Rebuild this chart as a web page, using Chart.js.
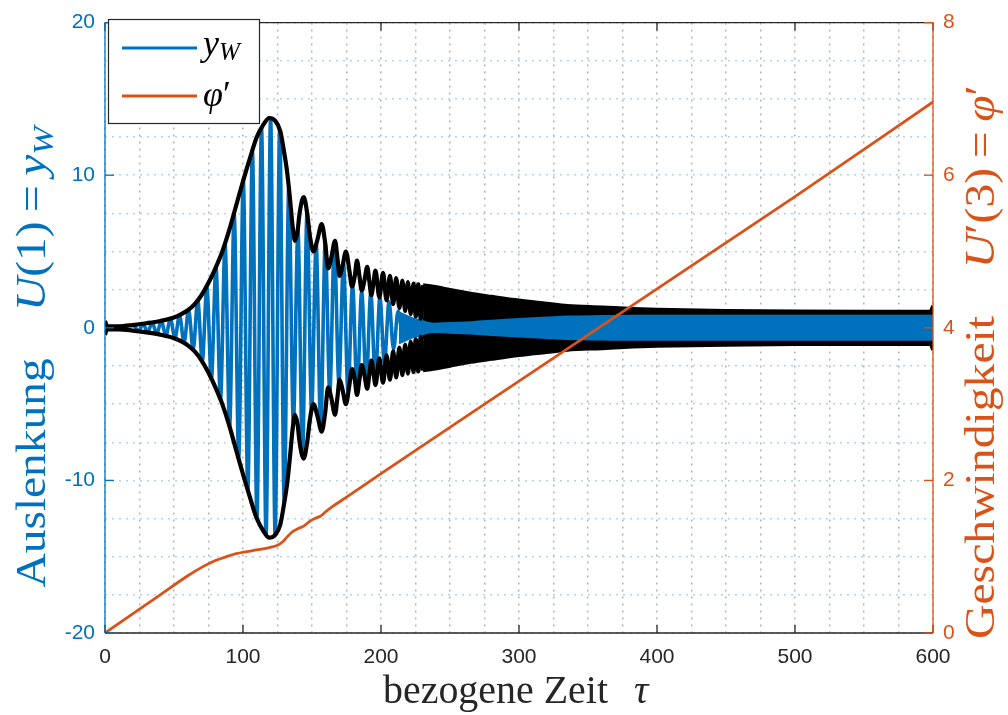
<!DOCTYPE html>
<html>
<head>
<meta charset="utf-8">
<script src="https://cdn.jsdelivr.net/npm/chart.js@4.4.1/dist/chart.umd.min.js"></script>
<style>
  html, body { margin: 0; padding: 0; background: #fff; }
  #wrap { width: 1008px; height: 715px; }
</style>
</head>
<body>
<div id="wrap"><canvas id="chart" width="1008" height="715"></canvas></div>
<script>
// right axis: phi' over tau
const phiTau = [0, 20, 40, 60, 70, 80, 88, 95, 107, 119, 125, 129, 132, 136, 140, 144, 148, 152, 156, 160, 165, 175, 200, 300, 400, 500, 600];
const phiVal = [0, 0.25, 0.50, 0.75, 0.86, 0.95, 1.00, 1.04, 1.08, 1.12, 1.15, 1.20, 1.26, 1.33, 1.37, 1.40, 1.46, 1.50, 1.53, 1.59, 1.66, 1.78, 2.09, 3.30, 4.51, 5.72, 6.96];

// black envelope, resolved part (upper side, lower side is mirrored)
const envTau = [0, 1.5, 10, 20, 30, 40, 50, 55, 60, 65, 70, 75, 80, 85, 90, 95, 100, 105, 110, 115, 119, 123, 127, 130, 132, 134, 136, 137.7, 139.5, 141, 144, 146.5, 148.5, 151, 154, 157, 159.5, 161.7, 164, 166.7, 168.5, 170, 172, 174.6, 177, 179, 181, 182.6, 184.5, 186, 188, 190, 191.5, 193, 194.5, 196, 198.8, 201.5, 204, 206.5, 208.8, 211, 213.3, 215.5, 217.5, 219.5, 221.5, 223.5, 225.2, 227, 228.8, 230.5];
const envUpper = [0.45, 0.1, 0.1, 0.18, 0.3, 0.45, 0.68, 0.88, 1.15, 1.55, 2.15, 2.95, 3.9, 5.0, 6.4, 8.0, 9.6, 11.1, 12.5, 13.35, 13.75, 13.6, 12.9, 11.4, 10.2, 8.5, 6.6, 5.7, 6.3, 7.5, 8.57, 7.5, 6.0, 5.0, 5.8, 6.8, 5.6, 3.9, 4.6, 5.7, 4.5, 3.4, 4.0, 5.0, 3.8, 2.7, 3.4, 4.4, 3.3, 2.45, 3.1, 4.0, 3.1, 2.15, 2.9, 3.75, 2.0, 3.6, 1.8, 3.4, 1.55, 3.25, 1.3, 3.1, 1.1, 3.0, 0.9, 2.9, 0.75, 2.85, 0.6, 2.8];

// black envelope, dense part drawn as a band (outer / inner edge)
const bandTau = [230.5, 238, 250, 265, 280, 300, 320, 335, 360, 383, 400, 450, 500, 550, 598, 600];
const bandOuter = [2.8, 2.7, 2.5, 2.25, 2.05, 1.8, 1.6, 1.45, 1.35, 1.25, 1.2, 1.12, 1.08, 1.07, 1.07, 1.45];
const bandInner = [0.6, 0.45, 0.5, 0.55, 0.65, 0.75, 0.85, 0.92, 0.95, 0.97, 0.97, 0.97, 0.97, 0.97, 0.97, 0.97];

// y_W extremes where the single oscillations can still be seen
const yTau = [21, 24.3, 27.6, 30.9, 34.2, 37.5, 40.8, 44.1, 47.4, 50.7, 54, 57.3, 60.6, 63.9, 67.2, 70.5, 73.8, 77.1, 80.4, 83.7, 87, 90.3, 93.6, 96.9, 100.2, 103.5, 106.8, 110.1, 113.4, 116.7, 120, 123.3, 126.6, 129.9, 133.2, 136.5, 139.8, 143.1, 146.4, 149.7, 153, 156.3, 159.6, 162.9, 166.2, 169.5, 172.8, 176.1, 179.4, 182.7, 186, 189.3, 192.6, 195.9, 199.2, 202.5, 205.8, 209.1, 212.4, 215.7];
const yW = [0.18, -0.21, 0.25, -0.3, 0.35, -0.41, 0.46, -0.52, 0.6, -0.68, 0.82, -0.98, 1.18, -1.45, 1.8, -2.2, 2.7, -3.35, 4.0, -4.7, 5.5, -6.45, 7.5, -8.5, 9.7, -10.7, 11.6, -12.5, 13.15, -13.55, 13.72, -13.55, 13.0, -11.45, 9.2, -6.2, 6.4, -8.4, 7.5, -5.4, 5.5, -6.6, 5.5, -4.2, 5.5, -3.6, 4.3, -4.2, 2.8, -4.3, 2.4, -3.7, 2.3, -3.5, 2.0, -2.3, 1.7, -1.4, 1.1, -0.9];

// y_W dense part (half width of the solid blue band)
const blueTau = [213, 225, 240, 250, 265, 280, 300, 320, 340, 600];
const blueHalf = [1.0, 0.55, 0.4, 0.45, 0.52, 0.6, 0.7, 0.78, 0.8, 0.8];

const xTicks = [0, 100, 200, 300, 400, 500, 600];
const yTicks = [-20, -10, 0, 10, 20];
const y2Ticks = [0, 2, 4, 6, 8];

const BLUE = '#0072BD';
const ORANGE = '#D95319';
const DARK = '#262626';
const SERIF = '"Liberation Serif", "Times New Roman", serif';

const pts = (xs, ys, sign = 1) => xs.map((x, i) => ({ x, y: sign * ys[i] }));

function lineSet(data, color, width, extra) {
  return Object.assign({
    data,
    borderColor: color,
    borderWidth: width,
    pointRadius: 0,
    fill: false,
    cubicInterpolationMode: 'monotone',
    yAxisID: 'y'
  }, extra || {});
}

const datasets = [
  lineSet(pts(phiTau, phiVal), ORANGE, 2.8, { yAxisID: 'y2', order: 0 }),
  lineSet(pts(envTau, envUpper), '#000', 4.2, { order: 1 }),
  lineSet(pts(envTau, envUpper, -1), '#000', 4.2, { order: 1 }),
  lineSet(pts(bandTau, bandOuter), '#000', 3.5, { order: 2, fill: { target: 4 }, backgroundColor: '#000' }),
  lineSet(pts(bandTau, bandInner), '#000', 3.5, { order: 2 }),
  lineSet(pts(bandTau, bandOuter, -1), '#000', 3.5, { order: 2, fill: { target: 6 }, backgroundColor: '#000' }),
  lineSet(pts(bandTau, bandInner, -1), '#000', 3.5, { order: 2 }),
  lineSet(pts(yTau, yW), BLUE, 3.6, { order: 3 }),
  lineSet(pts(blueTau, blueHalf), BLUE, 2.5, { order: 4, fill: { target: 9 }, backgroundColor: BLUE }),
  lineSet(pts(blueTau, blueHalf, -1), BLUE, 2.5, { order: 4 })
];

// draws mixed-font text, stretched to a target width
function drawRich(ctx, parts, x, y, width, align) {
  let w = 0;
  parts.forEach(p => { ctx.font = p.font; p.w = ctx.measureText(p.text).width; w += p.w; });
  const s = width ? width / w : 1;
  ctx.save();
  ctx.translate(align === 'center' ? x - (w * s) / 2 : x, y);
  ctx.scale(s, 1);
  let cx = 0;
  parts.forEach(p => {
    ctx.font = p.font;
    ctx.fillText(p.text, cx, p.dy || 0);
    cx += p.w;
  });
  ctx.restore();
}

// axes box, inward ticks, titles and legend in MATLAB style
const decorations = {
  id: 'decorations',
  afterDatasetsDraw(chart) {
    const { ctx, chartArea: a, scales: { x, y, y2 } } = chart;
    const seg = (x1, y1, x2, y2_) => { ctx.beginPath(); ctx.moveTo(x1, y1); ctx.lineTo(x2, y2_); ctx.stroke(); };
    ctx.save();
    ctx.lineWidth = 1.3;
    ctx.strokeStyle = DARK;
    seg(a.left, a.top, a.right, a.top);
    seg(a.left, a.bottom, a.right, a.bottom);
    xTicks.forEach(v => {
      const px = x.getPixelForValue(v);
      seg(px, a.bottom, px, a.bottom - 8);
      seg(px, a.top, px, a.top + 8);
    });
    ctx.strokeStyle = BLUE;
    seg(a.left, a.top, a.left, a.bottom);
    yTicks.forEach(v => { const py = y.getPixelForValue(v); seg(a.left, py, a.left + 9, py); });
    ctx.strokeStyle = ORANGE;
    seg(a.right, a.top, a.right, a.bottom);
    y2Ticks.forEach(v => { const py = y2.getPixelForValue(v); seg(a.right, py, a.right - 9, py); });
    ctx.restore();
  },
  afterDraw(chart) {
    const { ctx } = chart;
    const F = 42;
    const rom = `${F}px ${SERIF}`, ita = `italic ${F}px ${SERIF}`, sub = `italic ${Math.round(F * 0.72)}px ${SERIF}`;
    ctx.save();
    ctx.textBaseline = 'alphabetic';

    // x title
    ctx.fillStyle = DARK;
    drawRich(ctx, [{ text: 'bezogene Zeit', font: `40px ${SERIF}` }], 383, 703, 225, 'left');
    drawRich(ctx, [{ text: '\u03C4', font: `italic 40px ${SERIF}` }], 634, 703, 0, 'left');

    // left title
    ctx.save();
    ctx.translate(45, 357);
    ctx.rotate(-Math.PI / 2);
    ctx.fillStyle = BLUE;
    drawRich(ctx, [
      { text: 'Auslenkung', font: rom },
      { text: '\u2003', font: rom },
      { text: 'U', font: ita },
      { text: '(1)\u2009=\u2009', font: rom },
      { text: 'y', font: ita },
      { text: 'W', font: sub, dy: 8 }
    ], 0, 0, 461, 'center');
    ctx.restore();

    // right title
    ctx.save();
    ctx.translate(994, 362);
    ctx.rotate(-Math.PI / 2);
    ctx.fillStyle = ORANGE;
    drawRich(ctx, [
      { text: 'Geschwindigkeit', font: rom },
      { text: '\u2003', font: rom },
      { text: 'U', font: ita },
      { text: '\u2032', font: rom },
      { text: '(3)\u2009=\u2009', font: rom },
      { text: '\u03C6', font: ita },
      { text: '\u2032', font: rom }
    ], 0, 0, 554, 'center');
    ctx.restore();

    // legend
    ctx.fillStyle = '#fff';
    ctx.fillRect(108, 19, 152, 105);
    ctx.strokeStyle = DARK;
    ctx.lineWidth = 1.2;
    ctx.strokeRect(108.5, 19.5, 151, 104);
    ctx.lineWidth = 3;
    ctx.strokeStyle = BLUE;
    ctx.beginPath(); ctx.moveTo(122, 48); ctx.lineTo(197, 48); ctx.stroke();
    ctx.strokeStyle = ORANGE;
    ctx.beginPath(); ctx.moveTo(122, 96); ctx.lineTo(197, 96); ctx.stroke();
    ctx.fillStyle = '#000';
    const lf = `italic 36px ${SERIF}`;
    drawRich(ctx, [{ text: 'y', font: lf }, { text: 'W', font: `italic 25px ${SERIF}`, dy: 5 }], 203, 55, 0, 'left');
    drawRich(ctx, [{ text: '\u03C6', font: lf }, { text: '\u2032', font: `36px ${SERIF}` }], 203, 106, 0, 'left');
    ctx.restore();
  }
};

const tickFont = { family: '"Liberation Sans", Arial, sans-serif', size: 21 };

new Chart(document.getElementById('chart'), {
  type: 'line',
  data: { datasets },
  options: {
    responsive: false,
    animation: false,
    devicePixelRatio: 1,
    layout: { padding: { top: 17, left: 0, right: 0, bottom: 0 } },
    plugins: { legend: { display: false }, tooltip: { enabled: false } },
    scales: {
      x: {
        type: 'linear', min: 0, max: 600,
        afterFit: s => { s.height = 82; },
        ticks: {
          stepSize: 25, autoSkip: false, maxRotation: 0, padding: 12,
          color: DARK, font: tickFont,
          callback: v => (v % 100 === 0 ? String(v) : '')
        },
        grid: { color: '#b4b4b4', lineWidth: 1.5, drawTicks: false },
        border: { display: false, dash: [2, 5] }
      },
      y: {
        type: 'linear', position: 'left', min: -20, max: 20,
        afterFit: s => { s.width = 105; },
        ticks: {
          stepSize: 2.5, autoSkip: false, padding: 10,
          color: BLUE, font: tickFont,
          callback: v => (v % 10 === 0 ? String(v) : '')
        },
        grid: { color: '#b3d3ec', lineWidth: 1.5, drawTicks: false },
        border: { display: false, dash: [2, 5] }
      },
      y2: {
        type: 'linear', position: 'right', min: 0, max: 8,
        afterFit: s => { s.width = 75; },
        ticks: {
          stepSize: 2, autoSkip: false, padding: 10,
          color: ORANGE, font: tickFont
        },
        grid: { display: false, drawTicks: false },
        border: { display: false }
      }
    }
  },
  plugins: [decorations]
});
</script>
</body>
</html>
